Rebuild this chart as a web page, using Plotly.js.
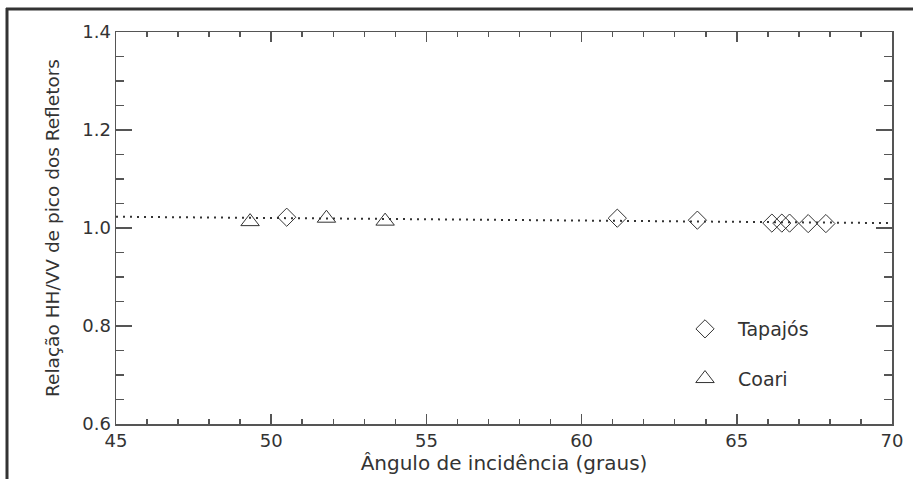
<!DOCTYPE html>
<html>
<head>
<meta charset="utf-8">
<script src="https://cdn.plot.ly/plotly-3.0.1.min.js"></script>
<style>html,body{margin:0;padding:0;background:#fff;}#chart{width:913px;height:479px;}</style>
</head>
<body>
<div id="chart"></div>
<script>
// Data
const tapajosAngle = [50.5, 61.15, 63.73, 66.13, 66.45, 66.7, 67.3, 67.87];
const tapajosRatio = [1.022, 1.020, 1.016, 1.010, 1.010, 1.010, 1.009, 1.009];
const coariAngle = [49.32, 51.78, 53.67];
const coariRatio = [1.013, 1.020, 1.014];
const fitAngle = [45, 70];
const fitRatio = [1.023, 1.010];

const ink = '#333333';
const fontFam = 'DejaVu Sans, sans-serif';

const traces = [
  {x: fitAngle, y: fitRatio, mode: 'lines', showlegend: false, hoverinfo: 'skip',
   line: {color: ink, width: 2, dash: '2px,5px'}},
  {x: tapajosAngle, y: tapajosRatio, mode: 'markers', name: 'Tapajós', legendgroup: 'a',
   marker: {symbol: 'diamond-open', size: 14, color: ink, line: {width: 1, color: ink}}},
  {x: coariAngle, y: coariRatio, mode: 'markers', name: 'Coari', legendgroup: 'b',
   marker: {symbol: 'triangle-up-open', size: 16, color: ink, line: {width: 1, color: ink}}}
];

const layout = {
  width: 913, height: 479,
  margin: {l: 116, r: 21, t: 32, b: 55},
  paper_bgcolor: '#fff', plot_bgcolor: '#fff',
  font: {family: fontFam, color: ink},
  showlegend: true,
  legend: {x: (672 - 116) / 776, y: (424 - 310) / 392, xanchor: 'left', yanchor: 'top',
           bgcolor: 'rgba(0,0,0,0)', font: {size: 19, color: ink, family: fontFam},
           itemwidth: 56, traceorder: 'grouped', tracegroupgap: 22},
  xaxis: {range: [45, 70], tickmode: 'array', tickvals: [45, 50, 55, 60, 65, 70],
          ticks: 'inside', ticklen: 10, tickwidth: 1.5, tickcolor: '#555',
          minor: {dtick: 1, ticks: 'inside', ticklen: 5, tickwidth: 1.5, tickcolor: '#555'},
          showline: true, linecolor: '#555', linewidth: 1.5, mirror: 'allticks',
          showgrid: false, zeroline: false,
          tickfont: {size: 18, color: ink},
          title: {text: 'Ângulo de incidência (graus)', font: {size: 20, color: ink}, standoff: 5}},
  yaxis: {range: [0.6, 1.4], tickmode: 'array', tickvals: [0.6, 0.8, 1.0, 1.2, 1.4],
          ticktext: ['0.6', '0.8', '1.0', '1.2', '1.4'],
          ticks: 'inside', ticklen: 16, tickwidth: 1.5, tickcolor: '#555',
          minor: {dtick: 0.05, ticks: 'inside', ticklen: 8, tickwidth: 1.5, tickcolor: '#555'},
          showline: true, linecolor: '#555', linewidth: 1.5, mirror: 'allticks',
          showgrid: false, zeroline: false,
          tickfont: {size: 18, color: ink},
          title: {text: 'Relação HH/VV de pico dos Refletors', font: {size: 18.5, color: ink}, standoff: 18}},
  shapes: [
    {type: 'line', xref: 'paper', yref: 'paper', x0: (7 - 116) / 776, x1: (7 - 116) / 776,
     y0: (424 - 479) / 392, y1: (424 - 8) / 392, line: {color: '#333', width: 3}},
    {type: 'line', xref: 'paper', yref: 'paper', x0: (6 - 116) / 776, x1: (913 - 116) / 776,
     y0: (424 - 9) / 392, y1: (424 - 9) / 392, line: {color: '#333', width: 3}}
  ]
};

Plotly.newPlot('chart', traces, layout, {displayModeBar: false, staticPlot: true});
</script>
</body>
</html>
